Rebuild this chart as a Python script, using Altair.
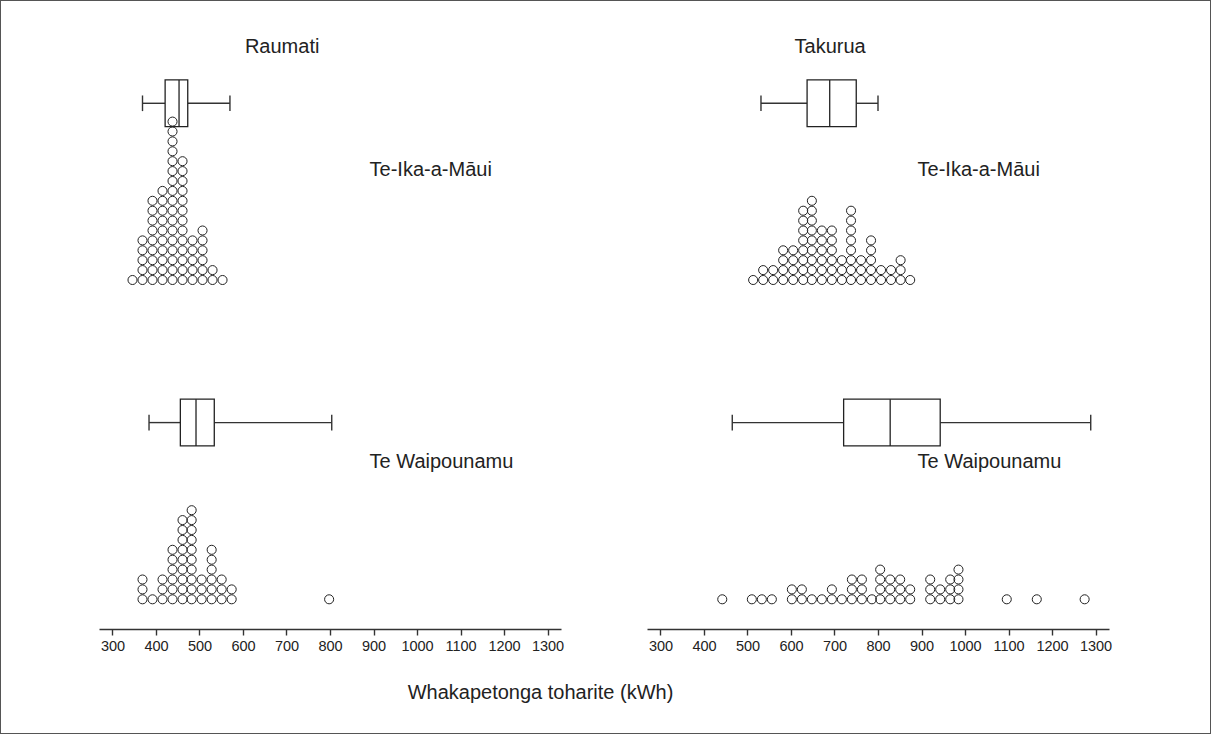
import altair as alt
import pandas as pd

# ---- labels -------------------------------------------------------------
SEASONS = ["Raumati", "Takurua"]
ISLANDS = ["Te-Ika-a-Māui", "Te Waipounamu"]
AXIS_TITLE = "Whakapetonga toharite (kWh)"
X_TICKS = [300, 400, 500, 600, 700, 800, 900, 1000, 1100, 1200, 1300]

# ---- dot plots: centre of each stack (kWh) and the number of dots in it --
raumati_ika_bins = [346, 369, 392, 415, 438, 461, 484, 507, 530, 553]
raumati_ika_counts = [1, 5, 9, 10, 17, 13, 5, 6, 2, 1]

takurua_ika_bins = [513, 536, 559, 582, 605, 628, 648, 671, 694, 717, 738,
                    761, 784, 807, 830, 852, 874]
takurua_ika_counts = [1, 2, 2, 4, 4, 8, 9, 6, 6, 3, 8, 3, 5, 2, 2, 3, 1]

raumati_wai_bins = [369, 392, 415, 438, 461, 482, 505, 528, 551, 574, 798]
raumati_wai_counts = [3, 1, 3, 6, 9, 10, 3, 6, 3, 2, 1]

takurua_wai_bins = [442, 510, 533, 556, 602, 625, 648, 671, 694, 717, 740,
                    763, 786, 805, 828, 851, 874, 920, 943, 966, 985,
                    1096, 1165, 1275]
takurua_wai_counts = [1, 1, 1, 1, 2, 2, 1, 1, 2, 1, 3, 3, 1, 4, 3, 3, 2,
                      3, 2, 3, 4, 1, 1, 1]

# ---- box plots: low whisker, Q1, median, Q3, high whisker (kWh) ----------
raumati_ika_box = [369, 421, 453, 473, 570]
takurua_ika_box = [531, 637, 689, 750, 800]
raumati_wai_box = [384, 456, 492, 534, 804]
takurua_wai_box = [465, 721, 828, 943, 1289]

# ---- layout: one framed canvas, each panel gets its own pixel ranges ----
CANVAS_W, CANVAS_H = 1211, 734
X_DOMAIN = [269, 1331]
X_RANGE = {"left": [99, 561], "right": [647, 1109]}
Y_DOMAIN = [-3, 25.2828]            # y measured in dot rows (9.9 px each)
Y_RANGE = {"top": [309.7, 29.7], "bottom": [629, 349]}
AXIS_Y = 629
BOX_LEVEL = 17.85
BOX_HALF = 2.36
CAP_HALF = 0.79
TITLE_X, TITLE_LEVEL = 690, 23.5
LABEL_X = 891
LABEL_LEVEL = {ISLANDS[0]: 11.1, ISLANDS[1]: 13.9}

INK = "#222222"
LINE = "#333333"
FONT = "Liberation Sans"


def panel(bins, counts, box, island, col, row, season=None, axis=None):
    dots = pd.DataFrame(
        [{"kwh": b, "level": i} for b, c in zip(bins, counts) for i in range(c)]
    )
    stats = pd.DataFrame([dict(zip(["lo", "q1", "med", "q3", "hi"], box))])

    xs = alt.Scale(domain=X_DOMAIN, range=X_RANGE[col], nice=False, zero=False)
    ys = alt.Scale(domain=Y_DOMAIN, range=Y_RANGE[row], nice=False, zero=False)

    def X(field):
        return alt.X(field, type="quantitative", scale=xs, axis=axis)

    def Xd(v):
        return alt.X(datum=v, type="quantitative", scale=xs, axis=axis)

    def Yd(v):
        return alt.Y(datum=v, type="quantitative", scale=ys, axis=None)

    rule = dict(color=LINE, strokeWidth=1.4)
    whisker_lo = alt.Chart(stats).mark_rule(**rule).encode(
        x=X("lo"), x2="q1", y=Yd(BOX_LEVEL))
    whisker_hi = alt.Chart(stats).mark_rule(**rule).encode(
        x=X("q3"), x2="hi", y=Yd(BOX_LEVEL))
    cap_lo = alt.Chart(stats).mark_rule(**rule).encode(
        x=X("lo"), y=Yd(BOX_LEVEL - CAP_HALF), y2=alt.datum(BOX_LEVEL + CAP_HALF))
    cap_hi = alt.Chart(stats).mark_rule(**rule).encode(
        x=X("hi"), y=Yd(BOX_LEVEL - CAP_HALF), y2=alt.datum(BOX_LEVEL + CAP_HALF))
    body = alt.Chart(stats).mark_rect(fill="white", stroke=INK,
                                      strokeWidth=1.3).encode(
        x=X("q1"), x2="q3",
        y=Yd(BOX_LEVEL - BOX_HALF), y2=alt.datum(BOX_LEVEL + BOX_HALF))
    median = alt.Chart(stats).mark_rule(color=INK, strokeWidth=1.3).encode(
        x=X("med"), y=Yd(BOX_LEVEL - BOX_HALF), y2=alt.datum(BOX_LEVEL + BOX_HALF))

    points = alt.Chart(dots).mark_point(
        shape="circle", filled=False, size=82, stroke=INK, strokeWidth=1,
        opacity=1
    ).encode(x=X("kwh"), y=alt.Y("level:Q", scale=ys, axis=None))

    label = alt.Chart(pd.DataFrame({"t": [island]})).mark_text(
        align="left", baseline="middle", fontSize=20, font=FONT, color=INK
    ).encode(x=Xd(LABEL_X), y=Yd(LABEL_LEVEL[island]), text="t:N")

    layers = [whisker_lo, whisker_hi, cap_lo, cap_hi, body, median, points, label]
    if season is not None:
        layers.append(
            alt.Chart(pd.DataFrame({"t": [season]})).mark_text(
                align="center", baseline="middle", fontSize=20, font=FONT,
                color=INK
            ).encode(x=Xd(TITLE_X), y=Yd(TITLE_LEVEL), text="t:N")
        )
    return alt.layer(*layers)


def bottom_axis(title=None, **kw):
    opts = dict(orient="bottom", values=X_TICKS, format="d", tickSize=6,
                labelPadding=4, labelFontSize=14.5, labelFont=FONT,
                labelColor=INK, domainColor=LINE, tickColor=LINE,
                domainWidth=1.4, tickWidth=1.4, grid=False, labelFlush=False,
                offset=AXIS_Y - CANVAS_H)
    opts.update(kw)
    return alt.Axis(title=title, **opts)


p_tl = panel(raumati_ika_bins, raumati_ika_counts, raumati_ika_box,
             ISLANDS[0], "left", "top", season=SEASONS[0])
p_tr = panel(takurua_ika_bins, takurua_ika_counts, takurua_ika_box,
             ISLANDS[0], "right", "top", season=SEASONS[1])
p_bl = panel(raumati_wai_bins, raumati_wai_counts, raumati_wai_box,
             ISLANDS[1], "left", "bottom",
             axis=bottom_axis(AXIS_TITLE, titleX=540, titleY=69,
                              titleAlign="center", titleBaseline="alphabetic",
                              titleFont=FONT, titleFontSize=20,
                              titleFontWeight="normal", titleColor=INK))
p_br = panel(takurua_wai_bins, takurua_wai_counts, takurua_wai_box,
             ISLANDS[1], "right", "bottom", axis=bottom_axis())

chart = (
    alt.layer(p_tl, p_tr, p_bl, p_br)
    .resolve_scale(x="independent", y="independent")
    .resolve_axis(x="independent", y="independent")
    .properties(width=CANVAS_W, height=CANVAS_H, padding=0,
                autosize=alt.AutoSizeParams(type="none"), background="white")
    .configure_view(stroke="#555555", strokeWidth=2)
)

chart.save("out.html", embed_options={"renderer": "svg", "actions": False})
